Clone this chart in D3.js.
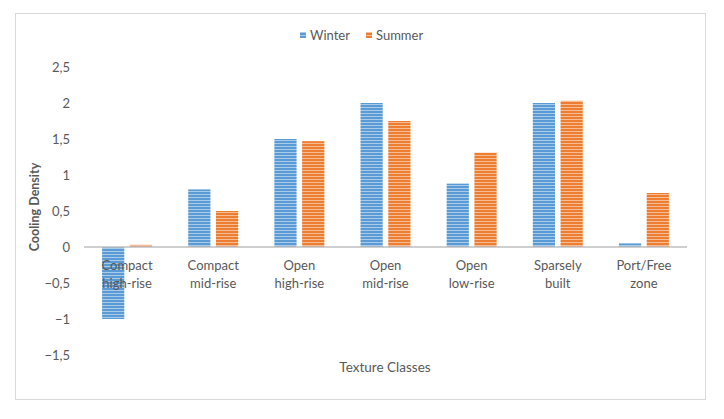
<!DOCTYPE html>
<html><head><meta charset="utf-8">
<script src="https://cdn.jsdelivr.net/npm/d3@7"></script>
<style>body{margin:0;background:#fff}svg text{font-family:Lato,"Liberation Sans",sans-serif;fill:#595959}</style>
</head><body><svg id="c" width="724" height="419"></svg>
<script>
const categories = [["Compact","high-rise"],["Compact","mid-rise"],["Open","high-rise"],["Open","mid-rise"],["Open","low-rise"],["Sparsely","built"],["Port/Free","zone"]];
const winter = [-1.0, 0.8, 1.5, 2.0, 0.88, 2.0, 0.05];
const summer = [0.03, 0.5, 1.47, 1.75, 1.31, 2.03, 0.75];
const seriesNames = ["Winter","Summer"];
const yTicks = [-1.5,-1,-0.5,0,0.5,1,1.5,2,2.5];
const colors = {Winter:["#5B9BD5","#A9CBEA"], Summer:["#ED7D31","#F6BC94"]};

const svg = d3.select("#c");
svg.append("rect").attr("x",15.5).attr("y",13.5).attr("width",690).attr("height",386)
  .attr("fill","#fff").attr("stroke","#d9d9d9");
const defs = svg.append("defs");
seriesNames.forEach(s=>{
  const p = defs.append("pattern").attr("id","p"+s).attr("patternUnits","userSpaceOnUse")
    .attr("width",4).attr("height",3);
  p.append("rect").attr("width",4).attr("height",3).attr("fill",colors[s][0]);
  p.append("rect").attr("y",2).attr("width",4).attr("height",1).attr("fill",colors[s][1]);
});

const x0 = d3.scaleBand().domain(d3.range(categories.length)).range([84,687]).paddingInner(0.42).paddingOuter(0.21);
const x1 = d3.scaleBand().domain(seriesNames).range([0,x0.bandwidth()]).paddingInner(0.2);
const y = d3.scaleLinear().domain([-1.5,2.5]).range([355,67]);

const yAxis = d3.axisLeft(y).tickValues(yTicks).tickSize(0).tickPadding(0)
  .tickFormat(d=>d3.format("")(d).replace(".",","));
const ga = svg.append("g").attr("transform","translate(70,0)").call(yAxis);
ga.select(".domain").remove();
ga.selectAll("text").attr("font-size",13).attr("dy","0.35em");

const data = [winter, summer];
seriesNames.forEach((s,si)=>{
  svg.append("g").selectAll("rect").data(data[si]).join("rect")
    .attr("x",(d,i)=>x0(i)+x1(s))
    .attr("width",x1.bandwidth())
    .attr("y",d=>y(Math.max(0,d)))
    .attr("height",d=>Math.abs(y(d)-y(0)))
    .attr("fill","url(#p"+s+")");
});

svg.append("line").attr("x1",84).attr("x2",687).attr("y1",y(0)).attr("y2",y(0))
  .attr("stroke","#bfbfbf").attr("stroke-width",1.5);

const cl = svg.append("g");
categories.forEach((c,i)=>{
  const t = cl.append("text").attr("x",x0(i)+x0.bandwidth()/2).attr("text-anchor","middle").attr("font-size",13);
  c.forEach((line,li)=> t.append("tspan").attr("x",x0(i)+x0.bandwidth()/2).attr("y",270+li*18).text(line));
});

svg.append("text").attr("x",385).attr("y",372).attr("text-anchor","middle").attr("font-size",13.5).text("Texture Classes");
svg.append("text").attr("transform","translate(39,207) rotate(-90)").attr("text-anchor","middle")
  .attr("font-size",12.5).attr("font-weight","bold").text("Cooling Density");

const leg = svg.append("g");
const legX = [300,366];
seriesNames.forEach((s,si)=>{
  leg.append("rect").attr("x",legX[si]).attr("y",32).attr("width",6).attr("height",6).attr("fill","url(#p"+s+")");
  leg.append("text").attr("x",legX[si]+10).attr("y",39.5).attr("font-size",13).text(s);
});
</script></body></html>
